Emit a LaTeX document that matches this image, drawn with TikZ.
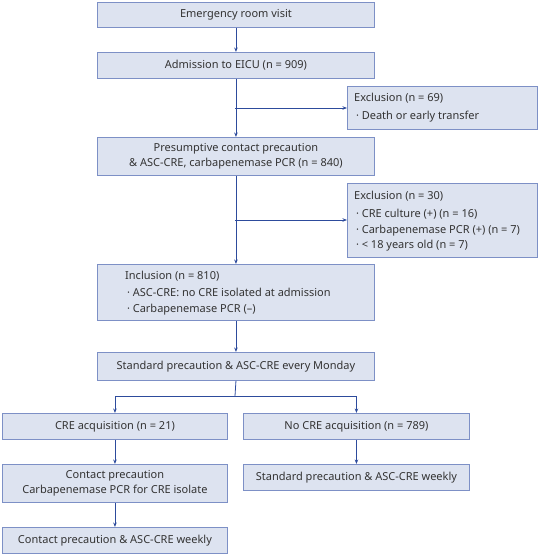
\documentclass[tikz,border=0pt]{standalone}
\usepackage{fontspec}
\setmainfont{Noto Sans}
\usetikzlibrary{arrows.meta}
\definecolor{boxfill}{HTML}{DDE3F0}
\definecolor{boxdraw}{HTML}{7D90C6}
\definecolor{arrowcol}{HTML}{2D4B9C}
\definecolor{txt}{HTML}{333333}
\begin{document}
\begin{tikzpicture}[x=1pt,y=-1pt,
  fbox/.style={draw=boxdraw,fill=boxfill,line width=0.9pt,inner sep=0pt,anchor=north west,text=txt,font=\fontsize{11}{15}\selectfont,align=center},
  ltext/.style={anchor=north west,inner sep=0pt,align=left,text=txt,font=\fontsize{11}{15.5}\selectfont},
  arr/.style={draw=arrowcol,line width=0.8pt,-{Stealth[length=4.5pt,width=3.5pt]}},
  ln/.style={draw=arrowcol,line width=0.8pt}]
\useasboundingbox (0,0) rectangle (539,558);
\newcommand{\bx}[6]{\node[fbox,minimum width=#4-#2,minimum height=#5-#3] (#1) at (#2,#3) {#6};}
\bx{er}{97}{2}{374}{27}{Emergency room visit}
\bx{adm}{97}{52}{374}{78}{Admission to EICU (n = 909)}
\bx{exa}{347}{86}{537}{129}{}
\bx{pre}{97}{137}{374}{175}{Presumptive contact precaution\\\& ASC-CRE, carbapenemase PCR (n = 840)}
\bx{exb}{347}{183}{537}{257}{}
\bx{inc}{97}{264}{374}{320}{}
\bx{std}{97}{352}{374}{380}{Standard precaution \& ASC-CRE every Monday}
\bx{cre}{2}{413}{227}{439}{CRE acquisition (n = 21)}
\bx{nocre}{243}{413}{469}{439}{No CRE acquisition (n = 789)}
\bx{cpc}{2}{464}{227}{502}{Contact precaution\\Carbapenemase PCR for CRE isolate}
\bx{stw}{243}{464}{469}{490}{Standard precaution \& ASC-CRE weekly}
\bx{cpw}{2}{527}{227}{553}{Contact precaution \& ASC-CRE weekly}
\node[ltext] (exatext) at (354,93) {Exclusion (n = 69)\\[2.5pt]\,· Death or early transfer};
\node[ltext] (exbtext) at (354,191) {Exclusion (n = 30)\\[2.5pt]\,· CRE culture (+) (n = 16)\\\,· Carbapenemase PCR (+) (n = 7)\\\,· < 18 years old (n = 7)};
\node[ltext,font=\fontsize{11}{16.5}\selectfont] (inctext) at (125,271) {Inclusion (n = 810)\\\,· ASC-CRE: no CRE isolated at admission\\\,· Carbapenemase PCR (–)};
% connectors
\draw[arr] (er.south) -- (adm.north);
\draw[arr] (adm.south) -- (pre.north);
\coordinate (ja) at (235,108);
\draw[arr] (ja) -- (ja -| exa.west);
\draw[arr] (pre.south) -- (inc.north);
\coordinate (jb) at (235,220);
\draw[arr] (jb) -- (jb -| exb.west);
\draw[arr] (inc.south) -- (std.north);
\coordinate (jc) at (235,396);
\draw[ln] (std.south) -- (jc);
\draw[arr] (jc) -| (cre.north);
\draw[arr] (jc) -| (nocre.north);
\draw[arr] (cre.south) -- (cpc.north);
\draw[arr] (cpc.south) -- (cpw.north);
\draw[arr] (nocre.south) -- (stw.north);
\end{tikzpicture}
\end{document}
